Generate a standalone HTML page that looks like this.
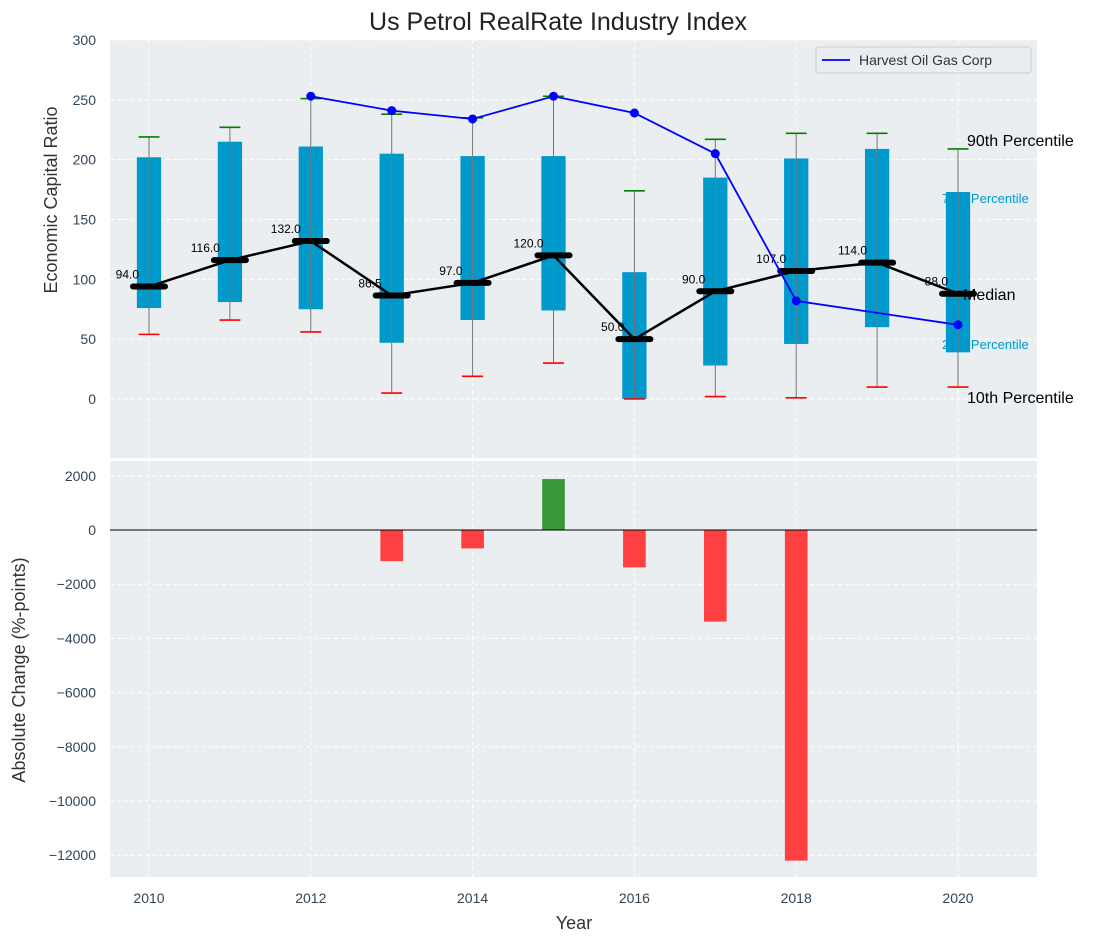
<!DOCTYPE html>
<html><head><meta charset="utf-8"><style>
body{margin:0;background:#fff;}
svg{display:block;font-family:"Liberation Sans","DejaVu Sans",sans-serif;}
</style></head><body>
<svg id="chart" width="1102" height="942" xmlns="http://www.w3.org/2000/svg"></svg>
<script>
const years=[2010,2011,2012,2013,2014,2015,2016,2017,2018,2019,2020];
const p10=[54,66,56,5,19,30,0,2,1,10,10];
const p25=[76,81,75,47,66,74,0,28,46,60,39];
const med=[94,116,132,86.5,97,120,50,90,107,114,88];
const p75=[202,215,211,205,203,203,106,185,201,209,173];
const p90=[219,227,251,238,235,253,174,217,222,222,209];
const harvestYears=[2012,2013,2014,2015,2016,2017,2018,2020];
const harvestVals=[253,241,234,253,239,205,82,62];
const changeYears=[2013,2014,2015,2016,2017,2018];
const changeVals=[-1150,-680,1880,-1380,-3380,-12200];
const topTicks=[0,50,100,150,200,250,300];
const botTicks=[2000,0,-2000,-4000,-6000,-8000,-10000,-12000];
const xTicks=[2010,2012,2014,2016,2018,2020];

const NS="http://www.w3.org/2000/svg";
const svg=document.getElementById('chart');
const L=110,R=1037;
const x=v=>149+(v-2010)*80.9;
const yT=v=>399-v*(359/300);
const yB=v=>530-v*(54.2/2000);
function el(t,a,txt){const e=document.createElementNS(NS,t);for(const k in a)e.setAttribute(k,a[k]);if(txt!==undefined)e.textContent=txt;svg.appendChild(e);return e;}

let e=el('text',{x:558,y:30,'text-anchor':'middle','font-size':25,fill:'#222'},'Us Petrol RealRate Industry Index');


e=el('rect',{x:L,y:40,width:R-L,height:418,fill:'#eaeef0'});

e=el('rect',{x:L,y:461,width:R-L,height:416,fill:'#eaeef0'});


xTicks.forEach(t=>{
 el('line',{x1:x(t),x2:x(t),y1:40,y2:458,stroke:'#fff','stroke-dasharray':'4,3','stroke-width':1});
 el('line',{x1:x(t),x2:x(t),y1:461,y2:877,stroke:'#fff','stroke-dasharray':'4,3','stroke-width':1});
 e=el('text',{x:x(t),y:903,'text-anchor':'middle','font-size':14,fill:'#334455'},t);
 
});
topTicks.forEach(t=>{
 el('line',{x1:L,x2:R,y1:yT(t),y2:yT(t),stroke:'#fff','stroke-dasharray':'4,3'});
 e=el('text',{x:96,y:yT(t)+5,'text-anchor':'end','font-size':14,fill:'#334455'},t);
 
});
botTicks.forEach(t=>{
 el('line',{x1:L,x2:R,y1:yB(t),y2:yB(t),stroke:'#fff','stroke-dasharray':'4,3'});
 e=el('text',{x:96,y:yB(t)+5,'text-anchor':'end','font-size':14,fill:'#334455'},t<0?'\u2212'+(-t):t);
 
});

e=el('text',{x:0,y:0,transform:'translate(57,200) rotate(-90)','text-anchor':'middle','font-size':18,fill:'#333'},'Economic Capital Ratio');

e=el('text',{x:0,y:0,transform:'translate(25,670) rotate(-90)','text-anchor':'middle','font-size':18,fill:'#333'},'Absolute Change (%-points)');

e=el('text',{x:574,y:929,'text-anchor':'middle','font-size':18,fill:'#333'},'Year');


e=el('text',{x:x(2020)-16,y:203,'font-size':13,fill:'#0099cc'},'75th Percentile');

e=el('text',{x:x(2020)-16,y:349,'font-size':13,fill:'#0099cc'},'25th Percentile');


years.forEach((y,i)=>{
 const w=0.3*80.9;
 e=el('rect',{x:x(y)-w/2,y:yT(p75[i]),width:w,height:yT(p25[i])-yT(p75[i]),fill:'#0099cc'});
 
 el('line',{x1:x(y),x2:x(y),y1:yT(p90[i]),y2:yT(p10[i]),stroke:'#777','stroke-width':1});
 el('line',{x1:x(y)-10.5,x2:x(y)+10.5,y1:yT(p90[i]),y2:yT(p90[i]),stroke:'green','stroke-width':1.6});
 el('line',{x1:x(y)-10.5,x2:x(y)+10.5,y1:yT(p10[i]),y2:yT(p10[i]),stroke:'red','stroke-width':1.6});
});

years.forEach((y,i)=>{
 e=el('text',{x:x(y)-10,y:yT(med[i])-8,'text-anchor':'end','font-size':12,fill:'#000'},med[i].toFixed(1));
 
});

e=el('text',{x:963,y:300,'font-size':16,fill:'#000'},'Median');


e=el('polyline',{points:years.map((y,i)=>x(y)+','+yT(med[i])).join(' '),fill:'none',stroke:'#000','stroke-width':2.5});

years.forEach((y,i)=>{
 e=el('line',{x1:x(y)-16,x2:x(y)+16,y1:yT(med[i]),y2:yT(med[i]),stroke:'#000','stroke-width':6,'stroke-linecap':'round'});
 
});

e=el('polyline',{points:harvestYears.map((y,i)=>x(y)+','+yT(harvestVals[i])).join(' '),fill:'none',stroke:'#0000ff','stroke-width':1.8});

harvestYears.forEach((y,i)=>{
 e=el('circle',{cx:x(y),cy:yT(harvestVals[i]),r:4.5,fill:'#0000ff'});
 
});

e=el('text',{x:967,y:146,'font-size':16,fill:'#000'},'90th Percentile');

e=el('text',{x:967,y:403,'font-size':16,fill:'#000'},'10th Percentile');


e=el('rect',{x:816,y:47,width:215,height:26,fill:'#eaeef0',stroke:'#ccc',rx:3});

el('line',{x1:822,x2:850,y1:60,y2:60,stroke:'#0000ff','stroke-width':1.8});
e=el('text',{x:859,y:65,'font-size':14,fill:'#333'},'Harvest Oil Gas Corp');


changeYears.forEach((y,i)=>{
 const v=changeVals[i],w=0.28*80.9;
 e=el('rect',{x:x(y)-w/2,y:Math.min(yB(v),yB(0)),width:w,height:Math.abs(yB(v)-yB(0)),fill:v>=0?'#3a9a3a':'#ff4040'});
 
});
el('line',{x1:L,x2:R,y1:yB(0),y2:yB(0),stroke:'#000','stroke-width':1});
</script>
</body></html>
